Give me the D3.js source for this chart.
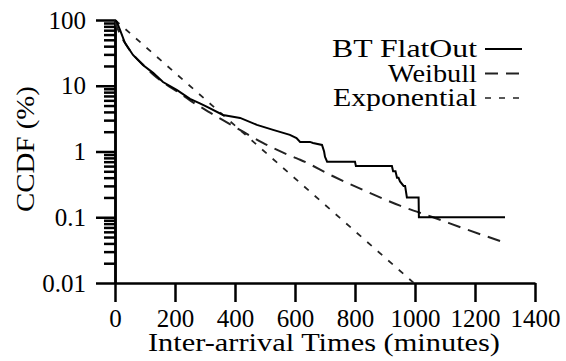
<!DOCTYPE html>
<html>
<head>
<meta charset="utf-8">
<script src="https://cdn.jsdelivr.net/npm/d3@7"></script>
</head>
<body style="margin:0; background:#fff">
<script>
// tick values
var xTicks = [0, 200, 400, 600, 800, 1000, 1200, 1400];
var yTicks = [0.01, 0.1, 1, 10, 100];

// BT FlatOut empirical CCDF (minutes, %)
var flatT = [0, 6, 17, 33, 60, 93, 127, 160, 207, 250, 283, 307, 360, 417, 473, 527, 583, 605, 617, 650, 660, 690, 697, 700, 707, 800, 803, 923, 927, 935, 940, 945, 950, 962, 967, 973, 1012, 1013, 1300];
var flatV = [100, 94, 70, 45, 29.4, 20.7, 15.7, 11.4, 8.6, 6.3, 5.4, 4.76, 3.6, 3.24, 2.54, 2.13, 1.79, 1.6, 1.4, 1.4, 1.35, 1.26, 1.0, 0.83, 0.7, 0.7, 0.6, 0.6, 0.5, 0.5, 0.4, 0.4, 0.35, 0.3, 0.3, 0.2, 0.2, 0.1, 0.1];

// Weibull fit
var weibT = [0, 5, 15, 33, 60, 93, 130, 170, 210, 250, 317, 360, 427, 493, 593, 617, 727, 840, 950, 1060, 1173, 1300];
var weibV = [100, 82, 64, 45, 30, 21, 14.5, 10.5, 8, 6, 3.9, 3.0, 2.0, 1.35, 0.83, 0.75, 0.42, 0.245, 0.15, 0.1, 0.065, 0.041];

// Exponential fit
var expT = [0, 996];
var expV = [100, 0.01];

var legendLabels = ["BT FlatOut", "Weibull", "Exponential"];

var width = 566, height = 361;
var margin = {top: 20, left: 115, right: 31, bottom: 78};

var svg = d3.select("body").append("svg")
    .attr("width", width)
    .attr("height", height);

var x = d3.scaleLinear()
    .domain([0, 1400])
    .range([margin.left, width - margin.right]);

var y = d3.scaleLog()
    .domain([0.01, 100])
    .range([height - margin.bottom, margin.top]);

// minor y ticks
var minor = [];
[0.01, 0.1, 1, 10].forEach(function(d) {
    for (var k = 2; k <= 9; k++) minor.push(d * k);
});

var yMinor = d3.axisLeft(y).tickValues(minor).tickSize(11).tickSizeOuter(0).tickFormat("");
var yAxis = d3.axisLeft(y).tickValues(yTicks).tickSize(19).tickSizeOuter(0).tickPadding(10)
    .tickFormat(function(d) { return String(d); });
var xAxis = d3.axisBottom(x).tickValues(xTicks).tickSize(19).tickSizeOuter(0).tickPadding(7)
    .tickFormat(d3.format("d"));

svg.append("g")
    .attr("transform", "translate(" + margin.left + ",0)")
    .call(yMinor);

svg.append("g")
    .attr("class", "y-axis")
    .attr("transform", "translate(" + margin.left + ",0)")
    .call(yAxis);

svg.append("g")
    .attr("class", "x-axis")
    .attr("transform", "translate(0," + (height - margin.bottom) + ")")
    .call(xAxis);

svg.selectAll("g").attr("font-family", "Liberation Serif").attr("font-size", 25);
svg.selectAll(".domain, .tick line")
    .attr("stroke", "#000")
    .attr("stroke-width", 2.5);
svg.selectAll(".tick text")
    .style("font-family", "'Liberation Serif'")
    .style("font-size", "25px")
    .attr("fill", "#000");

// axis titles
svg.append("text")
    .attr("x", 324)
    .attr("y", 351)
    .attr("text-anchor", "middle")
    .style("font-family", "'Liberation Serif'")
    .style("font-size", "25px")
    .attr("textLength", 352)
    .attr("lengthAdjust", "spacingAndGlyphs")
    .text("Inter-arrival Times (minutes)");

svg.append("text")
    .attr("transform", "translate(34,149) rotate(-90)")
    .attr("text-anchor", "middle")
    .style("font-family", "'Liberation Serif'")
    .style("font-size", "25px")
    .attr("textLength", 126)
    .attr("lengthAdjust", "spacingAndGlyphs")
    .text("CCDF (%)");

var line = d3.line()
    .x(function(d) { return x(d[0]); })
    .y(function(d) { return y(d[1]); });

var series = [
    {name: legendLabels[0], pts: d3.zip(flatT, flatV), dash: null, w: 2, curve: d3.curveLinear},
    {name: legendLabels[1], pts: d3.zip(weibT, weibV), dash: "13,8", w: 2, curve: d3.curveMonotoneX},
    {name: legendLabels[2], pts: d3.zip(expT, expV), dash: "6,8", w: 1.7, curve: d3.curveLinear}
];

series.slice().reverse().forEach(function(s) {
    svg.append("path")
        .datum(s.pts)
        .attr("fill", "none")
        .attr("stroke", s.dash ? "#222" : "#000")
        .attr("stroke-width", s.w)
        .attr("stroke-dasharray", s.dash)
        .attr("d", line.curve(s.curve));
});

// legend
var legendLen = [145, 89, 144];
var leg = svg.append("g");
series.forEach(function(s, i) {
    var by = 57 + i * 24.5;
    leg.append("text")
        .attr("x", 477)
        .attr("y", by)
        .attr("text-anchor", "end")
        .style("font-family", "'Liberation Serif'")
        .style("font-size", "25px")
        .attr("textLength", legendLen[i])
        .attr("lengthAdjust", "spacingAndGlyphs")
        .text(s.name);
    leg.append("line")
        .attr("x1", 485).attr("x2", 522)
        .attr("y1", by - 8).attr("y2", by - 8)
        .attr("stroke", s.dash ? "#222" : "#000")
        .attr("stroke-width", s.w)
        .attr("stroke-dasharray", s.dash);
});
</script>
</body>
</html>
